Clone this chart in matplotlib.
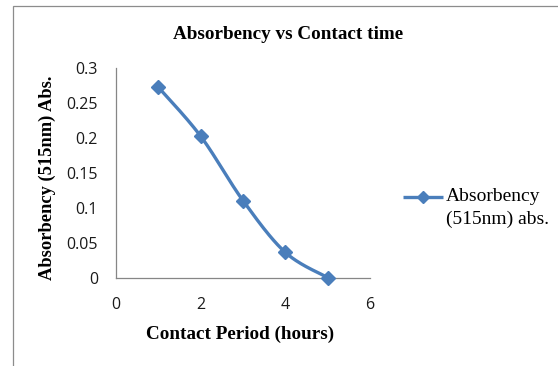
import numpy as np
import matplotlib
matplotlib.use("Agg")
import matplotlib.pyplot as plt
from matplotlib.lines import Line2D
from matplotlib.patches import Rectangle

# Data
hours = [1, 2, 3, 4, 5]
absorbency = [0.273, 0.203, 0.111, 0.037, 0.001]
series_label = "Absorbency\n(515nm) abs."
x_ticks = [0, 2, 4, 6]
y_ticks = [0, 0.05, 0.1, 0.15, 0.2, 0.25, 0.3]
y_tick_labels = ["0", "0.05", "0.1", "0.15", "0.2", "0.25", "0.3"]
title = "Absorbency vs Contact time"
xlabel = "Contact Period (hours)"
ylabel = "Absorbency (515nm) Abs."

color = "#4A7EBB"
axis_color = "#868686"
W, H = 558, 366


def smooth(xs, ys, n=40):
    x = np.asarray(xs, float)
    y = np.asarray(ys, float)
    px = np.concatenate([[x[0]], x, [x[-1]]])
    py = np.concatenate([[y[0]], y, [y[-1]]])
    out_x, out_y = [], []
    t = np.linspace(0, 1, n)
    for i in range(1, len(px) - 2):
        p0x, p1x, p2x, p3x = px[i - 1], px[i], px[i + 1], px[i + 2]
        p0y, p1y, p2y, p3y = py[i - 1], py[i], py[i + 1], py[i + 2]
        c1x = p1x + (p2x - p0x) / 6
        c1y = p1y + (p2y - p0y) / 6
        c2x = p2x - (p3x - p1x) / 6
        c2y = p2y - (p3y - p1y) / 6
        bx = (1 - t) ** 3 * p1x + 3 * (1 - t) ** 2 * t * c1x + 3 * (1 - t) * t ** 2 * c2x + t ** 3 * p2x
        by = (1 - t) ** 3 * p1y + 3 * (1 - t) ** 2 * t * c1y + 3 * (1 - t) * t ** 2 * c2y + t ** 3 * p2y
        out_x.extend(bx)
        out_y.extend(by)
    return np.array(out_x), np.array(out_y)


fig = plt.figure(figsize=(W / 100, H / 100), dpi=100)
fig.patch.set_facecolor("white")

# chart border
fig.patches.append(Rectangle((13 / W, -0.05), 1.2, (H - 6) / H + 0.05,
                             transform=fig.transFigure, fill=False,
                             edgecolor="#8C8C8C", linewidth=0.9))

ax = fig.add_axes([116 / W, (H - 278.3) / H, (370 - 116) / W, (278.3 - 68.3) / H])
sx, sy = smooth(hours, absorbency)
ax.plot(sx, sy, color=color, linewidth=2.4, solid_capstyle="round", zorder=3)
ax.plot(hours, absorbency, linestyle="none", marker="D", markersize=7.5,
        color=color, zorder=4, clip_on=False)

ax.set_xlim(0, 6)
ax.set_ylim(0, 0.3)
ax.set_xticks(x_ticks)
ax.set_yticks(y_ticks)
ax.set_yticklabels(y_tick_labels)
for s in ["top", "right"]:
    ax.spines[s].set_visible(False)
for s in ["left", "bottom"]:
    ax.spines[s].set_color(axis_color)
    ax.spines[s].set_linewidth(0.9)
ax.tick_params(length=0, labelsize=11.5, colors="#1a1a1a")
ax.tick_params(axis="x", pad=13.5)
ax.tick_params(axis="y", pad=13)
for lab in ax.get_xticklabels() + ax.get_yticklabels():
    lab.set_fontfamily("Open Sans")

fig.text(288 / W, 1 - 34.5 / H, title, ha="center", va="center",
         fontfamily="Liberation Serif", fontweight="bold", fontsize=13.8)
fig.text(240 / W, 1 - 334 / H, xlabel, ha="center", va="center",
         fontfamily="Liberation Serif", fontweight="bold", fontsize=13.8)
fig.text(47 / W, 1 - 178 / H, ylabel, ha="center", va="center", rotation=90,
         fontfamily="Liberation Serif", fontweight="bold", fontsize=13.3)

# legend (drawn by hand to match the Excel layout)
ly = 1 - 196.7 / H
fig.add_artist(Line2D([403 / W, 443 / W], [ly, ly], transform=fig.transFigure,
                      color=color, linewidth=2.4, solid_capstyle="butt"))
fig.add_artist(Line2D([423 / W], [ly], transform=fig.transFigure, color=color,
                      marker="D", markersize=6, linestyle="none"))
fig.text(446 / W, ly, series_label.split("\n")[0], ha="left", va="center",
         fontfamily="Liberation Serif", fontsize=14)
fig.text(446 / W, 1 - 219.7 / H, series_label.split("\n")[1], ha="left", va="center",
         fontfamily="Liberation Serif", fontsize=14)

fig.savefig("out.png", dpi=100)
